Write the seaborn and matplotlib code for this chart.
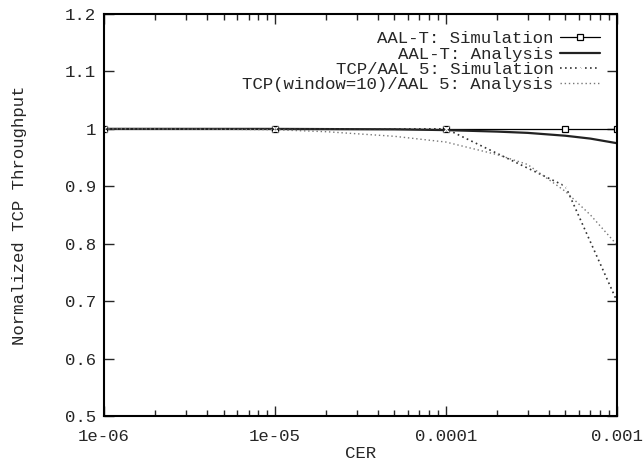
import matplotlib
matplotlib.use("Agg")
import matplotlib.pyplot as plt
import matplotlib.ticker as mticker
import seaborn as sns

# simulation points
sim_cer = [1e-6, 1e-5, 1e-4, 5e-4, 1e-3]
aalt_sim = [1.0, 1.0, 1.0, 1.0, 1.0]
aal5_sim = [1.0, 1.0, 1.0, 0.9, 0.7]

# analysis curves
aalt_cer = [1e-6, 1e-5, 5e-5, 1e-4, 2e-4, 3e-4, 5e-4, 7e-4, 1e-3]
aalt_ana = [1.0, 0.9999, 0.9992, 0.9978, 0.9952, 0.993, 0.988, 0.983, 0.975]
aal5_cer = [1e-6, 2e-6, 5e-6, 1e-5, 2e-5, 5e-5, 1e-4, 2e-4, 3e-4, 5e-4, 7e-4, 1e-3]
aal5_ana = [1.0, 0.9998, 0.9993, 0.9985, 0.995, 0.987, 0.977, 0.955, 0.938, 0.891, 0.85, 0.798]

x_ticks = [1e-6, 1e-5, 1e-4, 1e-3]
x_tick_labels = ["1e-06", "1e-05", "0.0001", "0.001"]
y_ticks = [0.5, 0.6, 0.7, 0.8, 0.9, 1.0, 1.1, 1.2]
y_tick_labels = ["0.5", "0.6", "0.7", "0.8", "0.9", "1", "1.1", "1.2"]

sns.set_style("ticks")
plt.rcParams["font.family"] = ["Liberation Mono", "DejaVu Sans Mono"]
plt.rcParams["font.size"] = 12.5

fig = plt.figure(figsize=(6.44, 4.63), dpi=100)
ax = fig.add_axes([0.1615, 0.1015, 0.7965, 0.8683])

sns.lineplot(x=sim_cer, y=aalt_sim, ax=ax, color="black", lw=0.9,
             marker="s", markersize=5, markerfacecolor="white",
             markeredgecolor="black", markeredgewidth=0.9,
             label="AAL-T: Simulation")
sns.lineplot(x=aalt_cer, y=aalt_ana, ax=ax, color="#222222", lw=1.6,
             label="AAL-T: Analysis")
sns.lineplot(x=sim_cer, y=aal5_sim, ax=ax, color="#333333", lw=1.2,
             linestyle=(0, (1, 2)), marker="x", markersize=5,
             markeredgewidth=0.8, label="TCP/AAL 5: Simulation")
sns.lineplot(x=aal5_cer, y=aal5_ana, ax=ax, color="#777777", lw=1.0,
             linestyle=(0, (1, 2)), label="TCP(window=10)/AAL 5: Analysis")

ax.set_xscale("log")
ax.set_xlim(1e-6, 1e-3)
ax.set_ylim(0.5, 1.2)
ax.set_xticks(x_ticks)
ax.set_xticklabels(x_tick_labels)
ax.set_yticks(y_ticks)
ax.set_yticklabels(y_tick_labels)
ax.xaxis.set_minor_locator(mticker.LogLocator(base=10, subs=range(2, 10)))
ax.xaxis.set_minor_formatter(mticker.NullFormatter())

ax.tick_params(which="both", direction="in", top=True, right=True, width=1.0)
ax.tick_params(which="major", length=7)
ax.tick_params(which="minor", length=4)
ax.tick_params(axis="x", which="major", pad=9)
ax.tick_params(axis="y", which="major", pad=6)
for s in ax.spines.values():
    s.set_linewidth(1.5)
    s.set_color("black")

ax.set_xlabel("CER", labelpad=2)
ax.set_ylabel("Normalized TCP Throughput", labelpad=27)

ax.legend(loc="upper right", frameon=False, markerfirst=False,
          handlelength=2.3, handletextpad=0.35, labelspacing=0.0,
          borderaxespad=0.6)

fig.savefig("out.png", dpi=100)
